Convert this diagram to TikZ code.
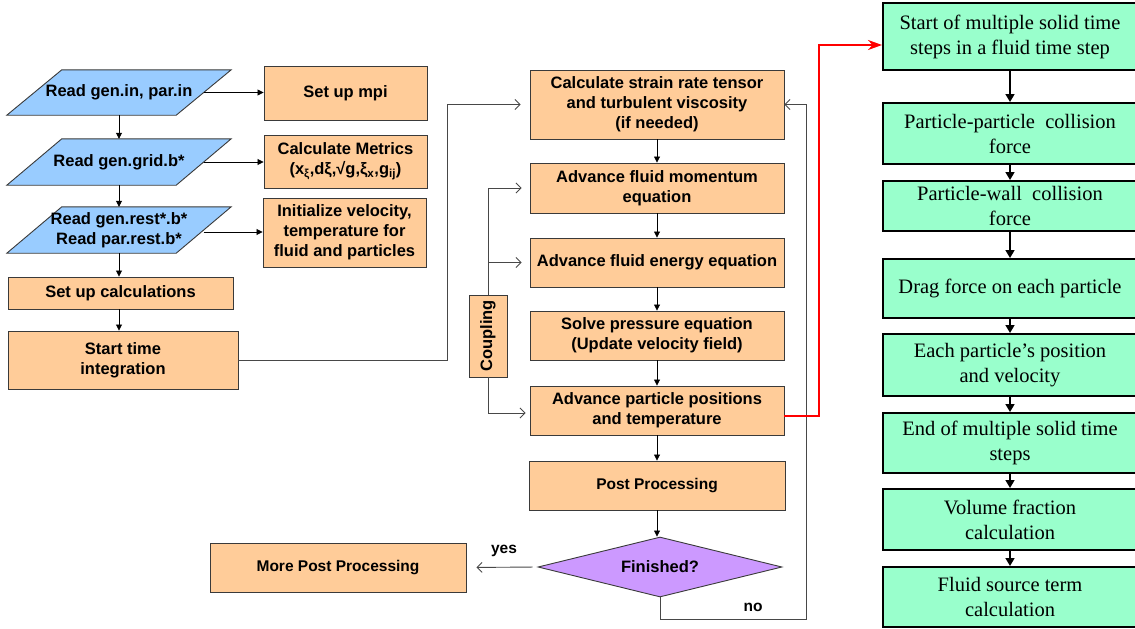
\documentclass[tikz,border=0pt]{standalone}
\usepackage{fontspec}
\setmainfont{Liberation Serif}
\setsansfont{Liberation Sans}
\usetikzlibrary{arrows.meta,shapes.geometric,backgrounds}

\definecolor{peach}{HTML}{FFCC99}
\definecolor{skyblue}{HTML}{99CCFF}
\definecolor{mint}{HTML}{99FFCC}
\definecolor{lilac}{HTML}{CC99FF}
\definecolor{edge}{HTML}{3A3A3A}
\definecolor{wire}{HTML}{484848}

\tikzset{
  sans/.style={font=\sffamily\bfseries\fontsize{16.5}{20}\selectfont},
  sanssmall/.style={font=\sffamily\bfseries\fontsize{15.5}{19}\selectfont},
  proc/.style={sans, draw=edge, line width=0.9pt, fill=peach, align=center, inner sep=0pt},
  iotext/.style={sans, align=center, inner sep=0pt, minimum width=169pt},
  iobox/.style={draw=edge, line width=0.9pt, fill=skyblue},
  decision/.style={sans, diamond, aspect=4, draw=edge, line width=0.9pt, fill=lilac,
    inner sep=0pt, minimum width=244pt, minimum height=60pt},
  solid/.style={draw=black, line width=2pt, fill=mint, align=center, inner sep=0pt,
    minimum width=254pt, font=\rmfamily\fontsize{20.5}{25}\selectfont},
  flow/.style={draw=black, line width=0.8pt, -{Triangle[length=6pt,width=6pt]}},
  loopback/.style={draw=wire, line width=0.9pt, -{Straight Barb[length=5pt,width=10pt]}},
  solidflow/.style={draw=black, line width=1.6pt, -{Triangle[length=8pt,width=9pt]}},
  redflow/.style={draw=red, line width=2pt, -{Stealth[length=14pt,width=10pt]}},
  tag/.style={sanssmall, inner sep=0pt}
}

\begin{document}
\begin{tikzpicture}[x=1pt,y=-1pt]
\useasboundingbox (0,0) rectangle (1135,629);

% ---- input / setup column ----
\node[iotext, minimum height=45pt] (pg1) at (119,92.5) {Read gen.in, par.in};
\node[iotext, minimum height=46pt] (pg2) at (119,162) {Read gen.grid.b*};
\node[iotext, minimum height=46pt] (pg3) at (119,230) {Read gen.rest*.b*\\Read par.rest.b*};
\begin{scope}[on background layer]
  \foreach \n in {pg1,pg2,pg3}
    \draw[iobox] ([xshift=-27.5pt]\n.south west) -- ([xshift=27.5pt]\n.north west)
      -- ([xshift=27.5pt]\n.north east) -- ([xshift=-27.5pt]\n.south east) -- cycle;
\end{scope}

\node[proc, minimum width=163pt, minimum height=54pt] (mpi) at (345.5,93) {Set up mpi};
\node[proc, minimum width=163pt, minimum height=53pt] (metrics) at (345.5,161.5)
  {Calculate Metrics\\(x\textsubscript{ξ},dξ,√g,ξ\textsubscript{x},g\textsubscript{ij})};
\node[proc, minimum width=163pt, minimum height=69pt] (init) at (344.5,232.5)
  {Initialize velocity,\\temperature for\\fluid and particles};
\node[proc, minimum width=225pt, minimum height=32pt] (setup) at (120.5,293) {Set up calculations};
\node[proc, minimum width=230pt, minimum height=58pt] (start) at (123,360) {Start time\\integration};

\draw[flow] (pg1.south) -- (pg1.south |- pg2.north);
\draw[flow] (pg2.south) -- (pg2.south |- pg3.north);
\draw[flow] (pg3.south) -- (pg3.south |- setup.north);
\draw[flow] (pg3.south |- setup.south) -- (pg3.south |- start.north);
\draw[flow] (pg1.east) -- (pg1.east -| mpi.west);
\draw[flow] (pg2.east) -- (pg2.east -| metrics.west);
\draw[flow] ([yshift=-2pt]pg3.east) -- ([yshift=-2pt]pg3.east -| init.west);

% ---- fluid solver column ----
\node[proc, minimum width=254pt, minimum height=69pt] (b1) at (657,104.5)
  {Calculate strain rate tensor\\and turbulent viscosity\\(if needed)};
\node[proc, minimum width=254pt, minimum height=50pt] (b2) at (657,188)
  {Advance fluid momentum\\equation};
\node[proc, minimum width=254pt, minimum height=49pt] (b3) at (657,262.5)
  {Advance fluid energy equation};
\node[proc, minimum width=254pt, minimum height=49pt] (b4) at (657,335.5)
  {Solve pressure equation\\(Update velocity field)};
\node[proc, minimum width=254pt, minimum height=49pt] (b5) at (657,410.5)
  {Advance particle positions\\and temperature};
\node[proc, sanssmall, minimum width=256pt, minimum height=49pt] (post) at (657,485.5)
  {Post Processing};
\node[decision] (fin) at (660,567) {Finished?};
\node[proc, sanssmall, minimum width=256pt, minimum height=49pt] (more) at (338,567.5)
  {More Post Processing};
\node[proc, minimum width=38pt, minimum height=82pt] (coupling) at (488,336)
  {\rotatebox{90}{Coupling}};

\draw[flow] (b1.south) -- (b2.north);
\draw[flow] (b2.south) -- (b3.north);
\draw[flow] (b3.south) -- (b4.north);
\draw[flow] (b4.south) -- (b5.north);
\draw[flow] (b5.south) -- (post.north);
\draw[flow] (post.south) -- (post.south |- fin.north);

% time loop entry
\coordinate (entry) at (447,0);
\draw[loopback, shorten >=9pt] (start.east) -- (start.east -| entry) |- (b1.west);

% coupling branches
\draw[loopback, shorten >=8pt] (coupling.north) |- (b2.west);
\draw[loopback, shorten >=8pt] (coupling.north |- b3.west) -- (b3.west);
\draw[loopback, shorten >=4pt] (coupling.south) |- ([yshift=-2.5pt]b5.west);

% decision outcomes
\draw[loopback, shorten <=5pt, shorten >=10pt] (fin.west) -- (more.east);
\node[tag] (yes) at (504,551) {yes};
\coordinate (back) at (806,619);
\draw[loopback] (fin.south) |- (back) |- (b1.east);
\node[tag] (no) at (753,607) {no};

% ---- particle sub-stepping column ----
\node[solid, minimum height=67pt] (g1) at (1010,36.5) {Start of multiple solid time\\steps in a fluid time step};
\node[solid, minimum height=61pt] (g2) at (1010,133.5) {Particle-particle\ \ collision\\force};
\node[solid, minimum height=50pt] (g3) at (1010,206) {Particle-wall\ \ collision\\force};
\node[solid, minimum height=59pt] (g4) at (1010,288.5) {Drag force on each particle};
\node[solid, minimum height=62pt] (g5) at (1010,365) {Each particle’s position\\and velocity};
\node[solid, minimum height=60pt] (g6) at (1010,443) {End of multiple solid time\\steps};
\node[solid, minimum height=61pt] (g7) at (1010,519.5) {Volume fraction\\calculation};
\node[solid, minimum height=60pt] (g8) at (1010,597) {Fluid source term\\calculation};

\foreach \a/\b in {g1/g2,g2/g3,g3/g4,g4/g5,g5/g6,g6/g7,g7/g8}
  \draw[solidflow] (\a.south) -- (\b.north);

\coordinate (riser) at (819,0);
\draw[redflow] ([yshift=-5.5pt]b5.east) -- ([yshift=-5.5pt]b5.east -| riser)
  |- ([yshift=-8.5pt]g1.west);
\end{tikzpicture}
\end{document}
